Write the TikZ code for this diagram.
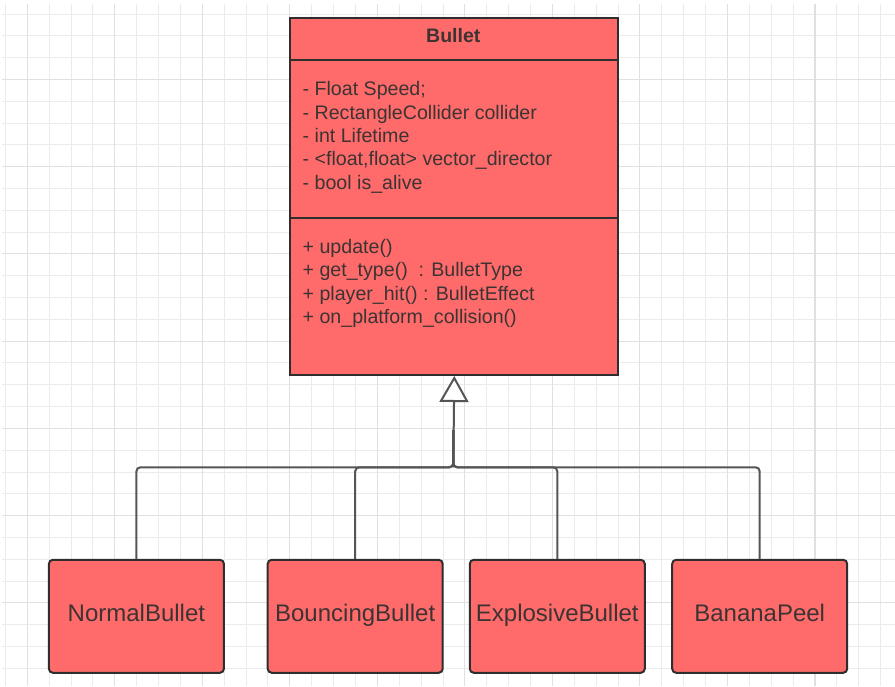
\documentclass[tikz,border=0pt]{standalone}
\usepackage{fontspec}
\setmainfont{Liberation Sans}
\usetikzlibrary{arrows.meta}
\definecolor{boxred}{HTML}{FF6B6B}
\definecolor{boxline}{HTML}{2E2E2E}
\definecolor{txt}{HTML}{3D3333}
\definecolor{gridminor}{HTML}{EBEBEB}
\definecolor{gridmajor}{HTML}{E0E0E0}
\definecolor{connline}{HTML}{555555}
\begin{document}
\begin{tikzpicture}[x=1pt,y=-1pt,
  classpart/.style={draw=boxline, line width=2pt, fill=boxred, minimum width=328pt, inner sep=0pt, anchor=north west},
  member/.style={anchor=base west, inner sep=0pt, text=txt, font=\fontsize{19.6}{23.4}\selectfont},
  childbox/.style={draw=boxline, line width=2pt, fill=boxred, rounded corners=4pt, minimum width=175pt, minimum height=113pt, inner sep=0pt, text=txt, font=\fontsize{24}{28}\selectfont, text height=17pt, text depth=6pt},
  conn/.style={draw=connline, line width=2pt, rounded corners=4pt},
  gridmin/.style={draw=gridminor, line width=1pt},
  gridmaj/.style={draw=gridmajor, line width=1.1pt},
]
\fill[white] (0,0) rectangle (895,686);
\useasboundingbox (0,0) rectangle (895,686);
% grid
\foreach \k in {0,...,40} { \draw[gridmin] ({5.4+21.88*\k},4) -- ({5.4+21.88*\k},686); }
\foreach \k in {0,...,30} { \draw[gridmin] (2,{14+21.81*\k}) -- (895,{14+21.81*\k}); }
\foreach \k in {1,5,...,37} { \draw[gridmaj] ({5.4+21.88*\k},4) -- ({5.4+21.88*\k},686); }
\foreach \k in {3,7,...,27} { \draw[gridmaj] (2,{14+21.81*\k}) -- (895,{14+21.81*\k}); }
% class box
\node[classpart, minimum height=42pt] (hdr) at (289.3,17.3) {};
\node[classpart, minimum height=157.4pt] (attrs) at (289.3,59.3) {};
\node[classpart, minimum height=157.3pt] (meths) at (289.3,216.7) {};
\node[anchor=base, inner sep=0pt, text=txt, font=\bfseries\fontsize{19.5}{23.4}\selectfont] (title) at (453.3,42.3) {Bullet};
\node[member] (a1) at (302.5,95.7) {- Float Speed;};
\node[member] (a2) at (302.5,119.0) {- RectangleCollider collider};
\node[member] (a3) at (302.5,142.3) {- int Lifetime};
\node[member] (a4) at (302.5,165.7) {- <float,float> vector\_director};
\node[member] (a5) at (302.5,189.0) {- bool is\_alive};
\node[member] (m1) at (302.5,253.3) {+ update()};
\node[member] (m2) at (302.5,276.7) {+ get\_type()\ \ : BulletType};
\node[member] (m3) at (302.5,300.0) {+ player\_hit() : BulletEffect};
\node[member] (m4) at (302.5,323.3) {+ on\_platform\_collision()};
% children
\node[childbox] (c1) at (136.4,616.3) {NormalBullet};
\node[childbox] (c2) at (355.2,616.3) {BouncingBullet};
\node[childbox] (c3) at (557.3,616.3) {ExplosiveBullet};
\node[childbox] (c4) at (759.7,616.3) {BananaPeel};
% connectors
\coordinate (hub) at (453.3,467.3);
\coordinate (hubup) at (453.3,430);
\foreach \c in {c1,c2,c3,c4} { \draw[conn] (\c.north) |- (hub) -- (hubup); }
\draw[conn, -{Triangle[open, length=26pt, width=29pt, fill=white]}] (hub) -- (meths.south);
\end{tikzpicture}
\end{document}
